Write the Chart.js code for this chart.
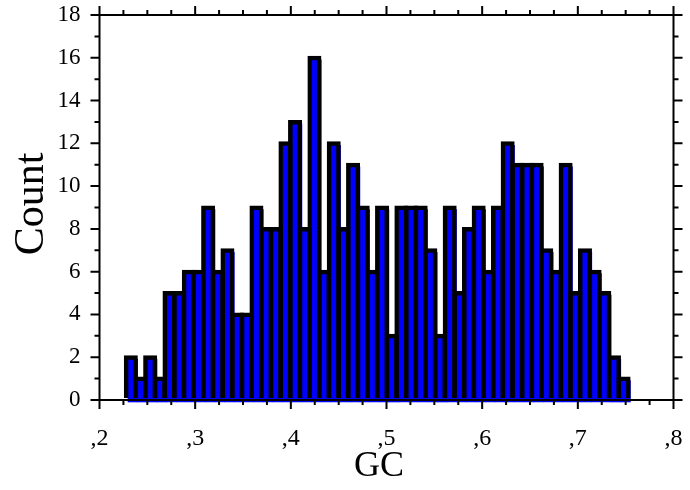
<!DOCTYPE html>
<html>
<head>
<meta charset="utf-8">
<script src="https://cdn.jsdelivr.net/npm/chart.js@4"></script>
<style>
html, body { margin: 0; padding: 0; background: #fff; }
#wrap { width: 690px; height: 490px; }
</style>
</head>
<body>
<div id="wrap"><canvas id="gcChart"></canvas></div>
<script>
// histogram GC: 52 bins
const binStart = 0.2277;
const binWidth = 0.0101;
const counts = [2, 1, 2, 1, 5, 5, 6, 6, 9, 6, 7, 4, 4, 9, 8, 8, 12, 13, 8, 16, 6, 12, 8, 11, 9, 6,
                9, 3, 9, 9, 9, 7, 3, 9, 5, 8, 9, 6, 9, 12, 11, 11, 11, 7, 6, 11, 5, 7, 6, 5, 2, 1];
const xTickValues = [0.2, 0.3, 0.4, 0.5, 0.6, 0.7, 0.8];
const xTickLabels = [',2', ',3', ',4', ',5', ',6', ',7', ',8'];
const yTickValues = [0, 2, 4, 6, 8, 10, 12, 14, 16, 18];

const points = counts.map((c, i) => ({ x: binStart + binWidth * (i + 0.5), y: c }));
const serif = '"Liberation Serif", "Times New Roman", serif';

// frame, major/minor ticks, axis titles, and the offset look of the bars
const frameTicks = {
    id: 'frameTicks',
    beforeDatasetDraw(chart, args) {
        const ctx = chart.ctx;
        ctx.save();
        if (args.index === 0) ctx.translate(0, -2);
        else ctx.translate(2, 2);
    },
    afterDatasetDraw(chart) {
        chart.ctx.restore();
    },
    afterDraw(chart) {
        const { ctx, chartArea: a, scales: { x, y } } = chart;
        ctx.save();
        ctx.strokeStyle = '#000';
        ctx.lineWidth = 2;
        ctx.strokeRect(a.left, a.top, a.right - a.left, a.bottom - a.top);
        ctx.beginPath();
        for (let v = 0; v <= 18; v++) {
            const len = v % 2 === 0 ? 9 : 5;
            const py = y.getPixelForValue(v);
            ctx.moveTo(a.left, py); ctx.lineTo(a.left - len, py);
            ctx.moveTo(a.right, py); ctx.lineTo(a.right + len, py);
        }
        for (let k = 0; k <= 24; k++) {
            const len = k % 4 === 0 ? 9 : 5;
            const px = x.getPixelForValue(0.2 + k * 0.025);
            ctx.moveTo(px, a.bottom); ctx.lineTo(px, a.bottom + len);
            ctx.moveTo(px, a.top); ctx.lineTo(px, a.top - len);
        }
        ctx.stroke();

        ctx.fillStyle = '#000';
        ctx.textAlign = 'center';
        ctx.textBaseline = 'middle';
        ctx.font = '36px ' + serif;
        ctx.fillText('GC', 379, 467);
        ctx.translate(32, 204);
        ctx.rotate(-Math.PI / 2);
        ctx.font = '42px ' + serif;
        ctx.fillText('Count', 0, 0);
        ctx.restore();
    }
};

new Chart(document.getElementById('gcChart'), {
    type: 'bar',
    data: {
        datasets: [
            {
                // black outline
                data: points,
                backgroundColor: 'rgba(0,0,0,0)',
                borderColor: '#000',
                borderWidth: 4.5,
                borderSkipped: 'start',
                barPercentage: 1.45,
                categoryPercentage: 1,
                grouped: false,
                clip: false,
            },
            {
                // blue fill
                data: points,
                backgroundColor: '#0000ff',
                borderWidth: 0,
                barPercentage: 1,
                categoryPercentage: 1,
                grouped: false,
                clip: false,
            },
        ],
    },
    options: {
        responsive: true,
        maintainAspectRatio: false,
        animation: false,
        layout: {
            padding: { top: 15, right: 16.5 },
        },
        plugins: {
            legend: { display: false },
            tooltip: { enabled: false },
        },
        scales: {
            x: {
                type: 'linear',
                min: 0.2,
                max: 0.8,
                offset: false,
                grid: { display: false, drawTicks: false },
                border: { display: false },
                afterBuildTicks: function (scale) {
                    scale.ticks = xTickValues.map(v => ({ value: v }));
                },
                afterFit: function (scale) {
                    scale.height = 90;
                    scale.paddingLeft = 0;
                    scale.paddingRight = 0;
                },
                ticks: {
                    autoSkip: false,
                    maxRotation: 0,
                    padding: 24,
                    color: '#000',
                    font: { family: serif, size: 24 },
                    callback: function (value, index) {
                        return xTickLabels[index];
                    }
                }
            },
            y: {
                min: 0,
                max: 18,
                grid: { display: false, drawTicks: false },
                border: { display: false },
                afterBuildTicks: function (scale) {
                    scale.ticks = yTickValues.map(v => ({ value: v }));
                },
                afterFit: function (scale) {
                    scale.width = 99.5;
                    scale.paddingTop = 0;
                    scale.paddingBottom = 0;
                },
                ticks: {
                    autoSkip: false,
                    padding: 19,
                    color: '#000',
                    font: { family: serif, size: 23 },
                }
            }
        }
    },
    plugins: [frameTicks],
});
</script>
</body>
</html>
